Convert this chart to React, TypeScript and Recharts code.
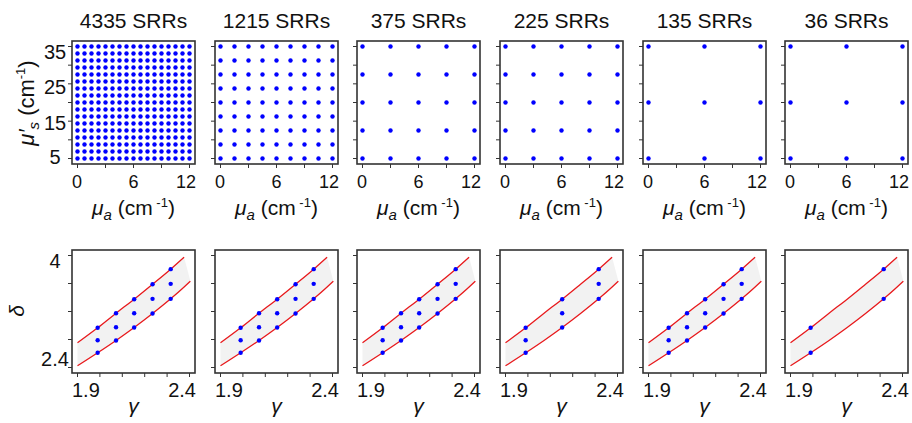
import React from 'react';
import { ScatterChart, ComposedChart, Scatter, Line, Area, XAxis, YAxis } from 'recharts';

const FONT = "'Liberation Sans', Arial, sans-serif";

const titles = ['4335 SRRs', '1215 SRRs', '375 SRRs', '225 SRRs', '135 SRRs', '36 SRRs'];

// top row grids (mu_a, mu'_s)
const muA17 = [0, 0.75, 1.5, 2.25, 3, 3.75, 4.5, 5.25, 6, 6.75, 7.5, 8.25, 9, 9.75, 10.5, 11.25, 12];
const muS17 = [5, 6.875, 8.75, 10.625, 12.5, 14.375, 16.25, 18.125, 20, 21.875, 23.75, 25.625, 27.5, 29.375, 31.25, 33.125, 35];
const muA9 = [0, 1.5, 3, 4.5, 6, 7.5, 9, 10.5, 12];
const muS9 = [5, 8.75, 12.5, 16.25, 20, 23.75, 27.5, 31.25, 35];
const muA5 = [0, 3, 6, 9, 12];
const muS5 = [5, 12.5, 20, 27.5, 35];
const muA3 = [0, 6, 12];
const muS3 = [5, 20, 35];
const topGrids = [
    [muA17, muS17],
    [muA9, muS9],
    [muA5, muS5],
    [muA5, muS5],
    [muA3, muS3],
    [muA3, muS3],
];

const muATicks = [0, 3, 6, 9, 12];
const muATickLabels = [0, 6, 12];
const muSTicks = [5, 10, 15, 20, 25, 30, 35];
const muSTickLabels = [5, 15, 25, 35];

// bottom row (gamma, delta)
const gammaCols = [1.99, 2.072, 2.153, 2.235, 2.316];
const deltaTop = [2.967, 3.176, 3.376, 3.59, 3.805];
const deltaMid = [2.79, 2.976, 3.176, 3.381, 3.595];
const deltaLow = [2.61, 2.786, 2.971, 3.171, 3.381];
const panelCols = [[0, 1, 2, 3, 4], [0, 1, 2, 3, 4], [0, 1, 2, 3, 4], [0, 2, 4], [0, 1, 2, 3, 4], [0, 4]];
const panelRows = [[0, 1, 2], [0, 1, 2], [0, 1, 2], [0, 1, 2], [0, 1, 2], [0, 2]];

const upperG = [1.9, 1.99, 2.072, 2.153, 2.235, 2.316, 2.376];
const upperD = [2.753, 2.967, 3.176, 3.376, 3.59, 3.805, 3.976];
const lowerG = [1.9, 1.99, 2.072, 2.153, 2.235, 2.316, 2.376, 2.404];
const lowerD = [2.424, 2.61, 2.786, 2.971, 3.171, 3.381, 3.55, 3.633];

const gammaTicks = [1.9, 2.0, 2.1, 2.2, 2.3, 2.4];
const gammaTickLabels = [1.9, 2.4];
const deltaTicks = [2.4, 2.8, 3.2, 3.6, 4.0];
const deltaTickLabels = [2.4, 4];

// layout
const BOX_L = [72, 215, 357, 500, 643, 785];
const BW = 123;
const BH = 123;
const TOP_Y = 41;
const BOT_Y = 250;
const YW = 60; // y-axis strip inside each chart
const PAD = 5.5 / 112;
const padDomain = (lo: number, hi: number): [number, number] => [lo - (hi - lo) * PAD, hi + (hi - lo) * PAD];

const upperPts = upperG.map((g, i) => ({ g, d: upperD[i] }));
const lowerPts = lowerG.map((g, i) => ({ g, d: lowerD[i] }));
const bandRows = lowerG.map((g, i) => ({ g, band: [lowerD[i], i < upperD.length ? upperD[i] : lowerD[i]] }));
const deltaRows = [deltaTop, deltaMid, deltaLow];

const fontStyle = { fontFamily: FONT };

// end labels are pulled inside the frame, as in the original
const XTick = ({ x, y, payload, labels, fs, dy }: any) => {
    const v = payload.value;
    if (!labels.includes(v)) return <g />;
    const first = v === labels[0];
    const last = v === labels[labels.length - 1];
    const tx = first ? YW : last ? YW + BW + 1 : x;
    const anchor = first ? 'start' : last ? 'end' : 'middle';
    return (
        <text x={tx} y={y + dy} textAnchor={anchor} fontSize={fs} style={fontStyle} fill="#111">
            {String(v)}
        </text>
    );
};

const YTick = ({ y, payload, labels, dys }: any) =>
    labels.includes(payload.value) ? (
        <text x={YW - 17} y={y + (dys[String(payload.value)] || 7)} textAnchor="middle" fontSize={20} style={fontStyle} fill="#111">
            {String(payload.value)}
        </text>
    ) : (
        <g />
    );

const dot = (p: any) => <circle cx={p.cx} cy={p.cy} r={2.2} fill="#0000ff" />;

const TopPanel = ({ i }: { i: number }) => {
    const [aVals, sVals] = topGrids[i];
    const pts = aVals.flatMap((a) => sVals.map((s) => ({ a, s })));
    return (
        <div style={{ position: 'absolute', left: BOX_L[i] - YW, top: TOP_Y - 10 }}>
            <ScatterChart width={YW + BW + 10} height={10 + BH + 40} margin={{ top: 10, right: 10, bottom: 0, left: 0 }}>
                <XAxis dataKey="a" type="number" domain={padDomain(0, 12)} ticks={muATicks} interval={0}
                    allowDataOverflow axisLine={false} tickSize={4} tickLine={{ stroke: '#333' }} height={40}
                    tick={<XTick labels={muATickLabels} fs={18} dy={18} />} />
                <YAxis dataKey="s" type="number" domain={padDomain(5, 35)} ticks={muSTicks} interval={0}
                    allowDataOverflow axisLine={false} tickSize={4} tickLine={{ stroke: '#333' }} width={YW}
                    tick={<YTick labels={i === 0 ? muSTickLabels : []} dys={{ '35': 12, '25': 10, '15': 9, '5': 5 }} />} />
                <Scatter data={pts} fill="#0000ff" shape={dot} isAnimationActive={false} />
            </ScatterChart>
        </div>
    );
};

const BottomPanel = ({ i }: { i: number }) => {
    const pts = panelCols[i].flatMap((c) => panelRows[i].map((r) => ({ g: gammaCols[c], d: deltaRows[r][c] })));
    return (
        <div style={{ position: 'absolute', left: BOX_L[i] - YW, top: BOT_Y - 10 }}>
            <ComposedChart width={YW + BW + 10} height={10 + BH + 40} data={bandRows} margin={{ top: 10, right: 10, bottom: 0, left: 0 }}>
                <XAxis dataKey="g" type="number" domain={padDomain(1.9, 2.4)} ticks={gammaTicks} interval={0}
                    allowDataOverflow axisLine={false} tickSize={4} tickLine={{ stroke: '#333' }} height={40}
                    tick={<XTick labels={gammaTickLabels} fs={20} dy={18} />} />
                <YAxis type="number" domain={padDomain(2.4, 4)} ticks={deltaTicks} interval={0}
                    allowDataOverflow axisLine={false} tickSize={4} tickLine={{ stroke: '#333' }} width={YW}
                    tick={<YTick labels={i === 0 ? deltaTickLabels : []} dys={{ '4': 12, '2.4': -2 }} />} />
                <Area dataKey="band" type="linear" fill="#f2f2f2" fillOpacity={1} stroke="none" isAnimationActive={false} />
                <Line data={upperPts} dataKey="d" type="monotone" stroke="#e8191c" strokeWidth={1.3} dot={false} isAnimationActive={false} />
                <Line data={lowerPts} dataKey="d" type="monotone" stroke="#e8191c" strokeWidth={1.3} dot={false} isAnimationActive={false} />
                <Scatter data={pts} dataKey="d" fill="#0000ff" shape={dot} isAnimationActive={false} />
            </ComposedChart>
        </div>
    );
};

const Labels = () => (
    <svg width={912} height={423} style={{ position: 'absolute', left: 0, top: 0, pointerEvents: 'none', fontFamily: FONT }}>
        {BOX_L.map((l, i) => {
            const cx = l + BW / 2;
            return (
                <g key={i} style={fontStyle} fill="#111">
                    <text x={cx} y={28} textAnchor="middle" fontSize={21} style={fontStyle}>{titles[i]}</text>
                    <rect x={l} y={TOP_Y} width={BW} height={BH} fill="none" stroke="#333" strokeWidth={1.6} />
                    <rect x={l} y={BOT_Y} width={BW} height={BH} fill="none" stroke="#333" strokeWidth={1.6} />
                    <text x={cx} y={215} textAnchor="middle" fontSize={21} style={fontStyle}>
                        <tspan fontStyle="italic">μ</tspan>
                        <tspan fontStyle="italic" fontSize={15} dy={5}>a</tspan>
                        <tspan dy={-5}> (cm</tspan>
                        <tspan fontSize={13} dy={-8}> -1</tspan>
                        <tspan dy={8}>)</tspan>
                    </text>
                    <text x={cx} y={413} textAnchor="middle" fontSize={21} fontStyle="italic" style={fontStyle}>γ</text>
                </g>
            );
        })}
        <g style={fontStyle} fill="#111">
            <text x={34} y={103} textAnchor="middle" fontSize={22} transform="rotate(-90 34 103)" style={fontStyle}>
                <tspan fontStyle="italic">μ′</tspan>
                <tspan fontStyle="italic" fontSize={15} dy={5}>s</tspan>
                <tspan dy={-5}> (cm</tspan>
                <tspan fontSize={13} dy={-9}>-1</tspan>
                <tspan dy={9}>)</tspan>
            </text>
            <text x={24} y={311} textAnchor="middle" fontSize={21} fontStyle="italic" transform="rotate(-90 24 311)" style={fontStyle}>δ</text>
        </g>
    </svg>
);

export default function App() {
    return (
        <div style={{ position: 'absolute', left: 0, top: 0, width: 912, height: 423, background: '#fff', fontFamily: FONT }}>
            {BOX_L.map((_, i) => (
                <TopPanel key={'t' + i} i={i} />
            ))}
            {BOX_L.map((_, i) => (
                <BottomPanel key={'b' + i} i={i} />
            ))}
            <Labels />
        </div>
    );
}
